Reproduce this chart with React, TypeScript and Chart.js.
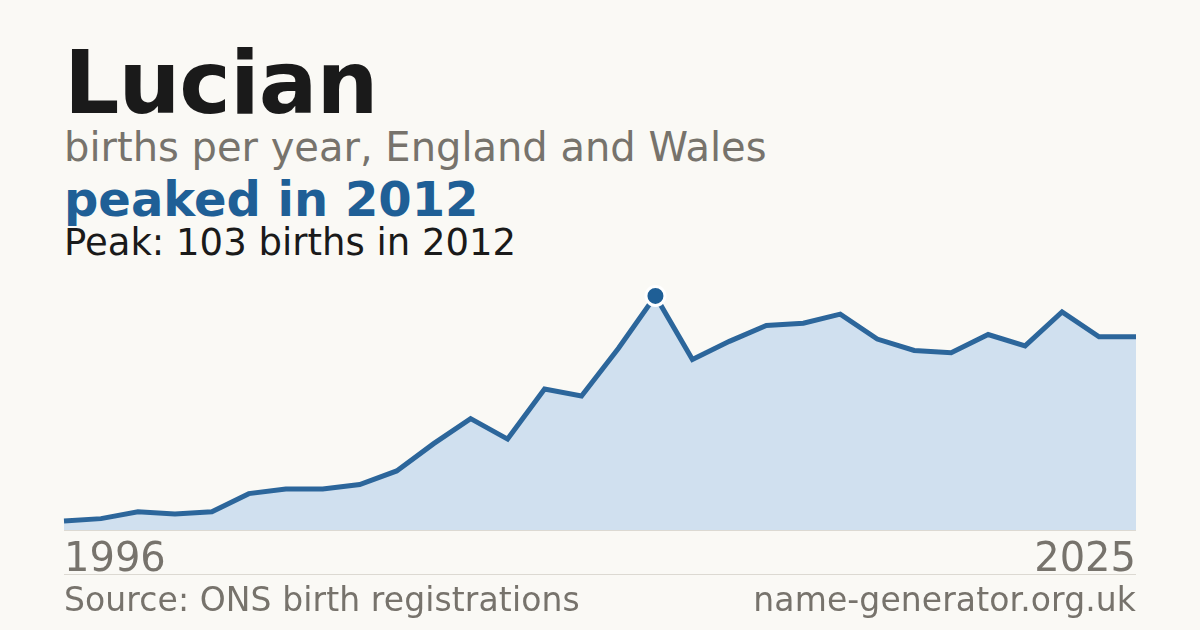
import { useEffect, useRef } from "react"
import { Chart, registerables } from "chart.js"

Chart.register(...registerables)

// births per year, England and Wales
const years = [
  1996, 1997, 1998, 1999, 2000, 2001, 2002, 2003, 2004, 2005,
  2006, 2007, 2008, 2009, 2010, 2011, 2012, 2013, 2014, 2015,
  2016, 2017, 2018, 2019, 2020, 2021, 2022, 2023, 2024, 2025,
]
const births = [
  4, 5, 8, 7, 8, 16, 18, 18, 20, 26,
  38, 49, 40, 62, 59, 80, 103, 75, 83, 90,
  91, 95, 84, 79, 78, 86, 81, 96, 85, 85,
]
const yMax = 110

const BLUE = "#1f5f96"
const LINE = "#2c669b"
const FILL = "#d0e0ef"
const GREY = "#77736c"
const INK = "#1a1a1a"
const BG = "#faf9f5"
const RULE = "#dcd9d2"
const FONT = "'DejaVu Sans', sans-serif"

export default function App() {
  const canvasRef = useRef<HTMLCanvasElement>(null)
  const chartRef = useRef<Chart | null>(null)

  useEffect(() => {
    document.body.style.margin = "0"
    document.body.style.background = BG
    if (!canvasRef.current) return
    if (chartRef.current) chartRef.current.destroy()

    const peakIdx = births.indexOf(Math.max(...births))

    chartRef.current = new Chart(canvasRef.current, {
      type: "line",
      data: {
        labels: years.map(String),
        datasets: [
          {
            data: births,
            borderColor: LINE,
            borderWidth: 5,
            backgroundColor: FILL,
            fill: "origin",
            tension: 0,
            borderJoinStyle: "miter",
            pointRadius: births.map((_, i) => (i === peakIdx ? 9.5 : 0)),
            pointBackgroundColor: BLUE,
            pointBorderColor: "#ffffff",
            pointBorderWidth: 3,
            clip: false,
          },
        ],
      },
      options: {
        responsive: false,
        animation: false,
        layout: { padding: { left: 64, right: 64, top: 280, bottom: 100 } },
        plugins: {
          legend: { display: false },
          tooltip: { enabled: false },
        },
        scales: {
          x: { display: false, offset: false },
          y: { display: false, min: 0, max: yMax },
        },
      },
    })

    return () => {
      if (chartRef.current) {
        chartRef.current.destroy()
        chartRef.current = null
      }
    }
  }, [])

  const text = (top: number, size: number, color: string, weight = 400): React.CSSProperties => ({
    position: "absolute",
    left: 64,
    top,
    fontFamily: FONT,
    fontSize: size,
    lineHeight: `${size}px`,
    color,
    fontWeight: weight,
    whiteSpace: "nowrap",
  })

  return (
    <div style={{ position: "relative", width: 1200, height: 630, background: BG, overflow: "hidden" }}>
      <div style={{ ...text(40, 87, INK, 700), letterSpacing: -1 }}>Lucian</div>
      <div style={text(127, 40, GREY)}>births per year, England and Wales</div>
      <div style={text(175, 48, BLUE, 700)}>peaked in 2012</div>
      <div style={text(224, 37, INK)}>Peak: 103 births in 2012</div>

      <canvas ref={canvasRef} width={1200} height={630} style={{ position: "absolute", left: 0, top: 0 }} />

      <div style={{ position: "absolute", left: 64, top: 530, width: 1072, height: 1, background: RULE }} />
      <div style={text(537, 40, GREY)}>{years[0]}</div>
      <div style={{ ...text(537, 40, GREY), left: undefined, right: 64 }}>{years[years.length - 1]}</div>
      <div style={{ position: "absolute", left: 64, top: 574, width: 1072, height: 1, background: RULE }} />
      <div style={{ ...text(583, 33, GREY), letterSpacing: 0.1 }}>Source: ONS birth registrations</div>
      <div style={{ ...text(583, 33, GREY), left: undefined, right: 64, letterSpacing: 0.1 }}>name-generator.org.uk</div>
    </div>
  )
}
